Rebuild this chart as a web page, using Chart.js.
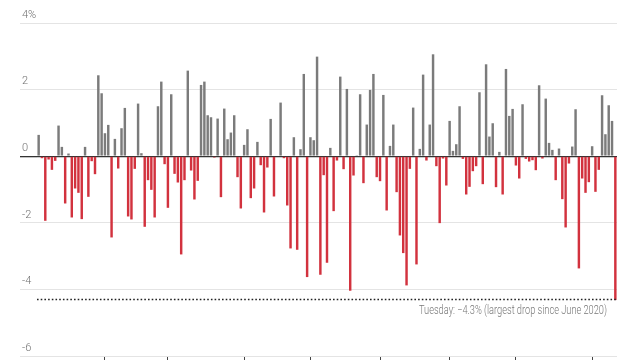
<!DOCTYPE html>
<html>
<head>
<meta charset="utf-8">
<script src="https://cdn.jsdelivr.net/npm/chart.js@4"></script>
<style>
  html, body { margin: 0; padding: 0; background: #fff; }
  #wrap { width: 640px; height: 360px; }
</style>
</head>
<body>
<div id="wrap"><canvas id="chart" width="640" height="360"></canvas></div>
<script>
// trading days, Jan 3 - Sep 13 2022
const monthNames = ["Jan", "Feb", "Mar", "Apr", "May", "Jun", "Jul", "Aug", "Sep"];
const monthDays = [
  [3, 4, 5, 6, 7, 10, 11, 12, 13, 14, 18, 19, 20, 21, 24, 25, 26, 27, 28, 31],
  [1, 2, 3, 4, 7, 8, 9, 10, 11, 14, 15, 16, 17, 18, 22, 23, 24, 25, 28],
  [1, 2, 3, 4, 7, 8, 9, 10, 11, 14, 15, 16, 17, 18, 21, 22, 23, 24, 25, 28, 29, 30, 31],
  [1, 4, 5, 6, 7, 8, 11, 12, 13, 14, 18, 19, 20, 21, 22, 25, 26, 27, 28, 29],
  [2, 3, 4, 5, 6, 9, 10, 11, 12, 13, 16, 17, 18, 19, 20, 23, 24, 25, 26, 27, 31],
  [1, 2, 3, 6, 7, 8, 9, 10, 13, 14, 15, 16, 17, 21, 22, 23, 24, 27, 28, 29, 30],
  [1, 5, 6, 7, 8, 11, 12, 13, 14, 15, 18, 19, 20, 21, 22, 25, 26, 27, 28, 29],
  [1, 2, 3, 4, 5, 8, 9, 10, 11, 12, 15, 16, 17, 18, 19, 22, 23, 24, 25, 26, 29, 30, 31],
  [1, 2, 6, 7, 8, 9, 12, 13]
];

// daily % change, one row per month
const changes = [
  0.64, -0.06, -1.94, -0.10, -0.41, -0.14, 0.92, 0.28, -1.42, 0.08, -1.84, -0.97, -1.10, -1.89, 0.28, -1.22, -0.15, -0.54, 2.43, 1.89,
  0.69, 0.94, -2.44, 0.52, -0.37, 0.84, 1.45, -1.81, -1.90, -0.38, 1.58, 0.09, -2.12, -0.72, -1.01, -1.84, 1.50, 2.24, -0.24,
  -1.55, 1.86, -0.53, -0.79, -2.95, -0.72, 2.57, -0.43, -1.30, -0.74, 2.14, 2.24, 1.23, 1.17, -0.04, 1.13, -1.23, 1.43, 0.51, 0.71, 1.23, -0.63, -1.57,
  0.34, 0.81, -1.26, -0.97, 0.43, -0.27, -1.69, -0.34, 1.12, -1.21, -0.02, 1.61, -0.06, -1.48, -2.77, 0.57, -2.81, 0.21, 2.47, -3.63,
  0.57, 0.48, 2.99, -3.56, -0.57, -3.20, 0.25, -1.65, -0.13, 2.39, -0.39, 2.02, -4.04, -0.58, 0.01, 1.86, -0.81, 0.95, 1.99, 2.47, -0.63,
  -0.75, 1.84, -1.63, 0.31, 0.95, -1.08, -2.38, -2.91, -3.88, -0.38, 1.46, -3.25, 0.22, 2.45, -0.13, 0.95, 3.06, -0.30, -2.01, -0.07, -0.88,
  1.06, 0.16, 0.36, 1.50, -0.08, -1.15, -0.92, -0.45, -0.30, 1.92, -0.84, 2.76, 0.59, 0.99, -0.93, 0.13, -1.15, 2.62, 1.21, 1.42,
  -0.28, -0.67, 1.56, -0.08, -0.16, -0.12, -0.42, 2.13, -0.07, 1.73, 0.40, 0.19, -0.72, 0.23, -1.29, -2.14, -0.22, 0.29, 1.41, -3.37, -0.67, -1.10, -0.78,
  0.30, -1.07, -0.41, 1.83, 0.66, 1.53, 1.06, -4.32
];

const yTicks = [4, 2, 0, -2, -4, -6];
const lastDrop = -4.3;
const noteText = "Tuesday: \u22124.3% (largest drop since June 2020)";

const FONT = "'Roboto', 'Liberation Sans', sans-serif";

// build labels and remember where each month starts
const labels = [];
const monthStarts = [];
monthDays.forEach((days, m) => {
  days.forEach((d, i) => {
    if (i === 0 && labels.length > 0) monthStarts.push(labels.length);
    labels.push(monthNames[m] + " " + d);
  });
});

// dotted line for Tuesday's drop + note
const dropLine = {
  id: "dropLine",
  afterDatasetsDraw(chart) {
    const { ctx, chartArea, scales } = chart;
    const y = Math.round(scales.y.getPixelForValue(lastDrop)) + 0.5;
    ctx.save();
    ctx.strokeStyle = "#222";
    ctx.lineWidth = 1.6;
    ctx.setLineDash([1.6, 2.1]);
    ctx.beginPath();
    ctx.moveTo(chartArea.left, y);
    ctx.lineTo(chartArea.right, y);
    ctx.stroke();
    ctx.setLineDash([]);
    // the original font is a condensed one, so squeeze it a bit
    const sx = 0.77;
    ctx.translate(chartArea.right - 10, y + 11);
    ctx.scale(sx, 1);
    ctx.fillStyle = "#777";
    ctx.font = "300 12px " + FONT;
    ctx.textAlign = "right";
    ctx.textBaseline = "middle";
    ctx.fillText(noteText, 0, 0);
    ctx.restore();
  }
};

const ctx = document.getElementById("chart").getContext("2d");

new Chart(ctx, {
  type: "bar",
  data: {
    labels: labels,
    datasets: [{
      data: changes,
      backgroundColor: changes.map(v => v >= 0 ? "#7b7b7b" : "#d2323e"),
      barPercentage: 0.74,
      categoryPercentage: 1
    }]
  },
  options: {
    responsive: false,
    animation: false,
    layout: { padding: { left: 20, right: 23, top: 23, bottom: 0 } },
    plugins: {
      legend: { display: false },
      tooltip: { enabled: false }
    },
    scales: {
      x: {
        offset: true,
        border: { display: false },
        grid: {
          offset: false,
          drawOnChartArea: false,
          tickLength: 4,
          color: c => monthStarts.includes(c.index) ? "#444" : "rgba(0,0,0,0)"
        },
        ticks: { display: false, autoSkip: false }
      },
      y: {
        min: -6,
        max: 4,
        afterFit: scale => { scale.width = 17; },
        afterBuildTicks: scale => { scale.ticks = yTicks.map(v => ({ value: v })); },
        border: { display: false },
        grid: {
          tickLength: 17,
          color: c => c.tick && c.tick.value === 0 ? "#333" : "#e4e4e4",
          lineWidth: c => c.tick && c.tick.value === 0 ? 1.3 : 1
        },
        ticks: {
          mirror: true,
          padding: -15,
          labelOffset: -8,
          color: "#707070",
          font: { family: FONT, size: 11, weight: 300 },
          callback: v => v === 4 ? "4%" : String(v)
        }
      }
    }
  },
  plugins: [dropLine]
});
</script>
</body>
</html>
